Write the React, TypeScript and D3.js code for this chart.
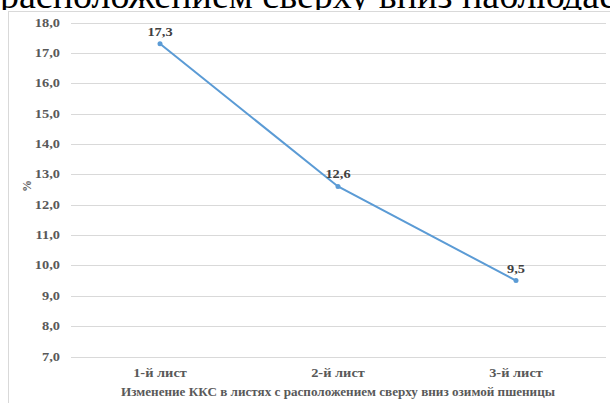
import React from "react";
import * as d3 from "d3";

const categories = ["1-й лист", "2-й лист", "3-й лист"];
const values = [17.3, 12.6, 9.5];
const yTicks = [7, 8, 9, 10, 11, 12, 13, 14, 15, 16, 17, 18];
const xTitle = "Изменение ККС в листях с расположением сверху вниз озимой пшеницы";
const yTitle = "%";
const headerText = "расположением сверху вниз наблюдается";

const W = 610;
const H = 403;
const fmt = (v: number) => v.toFixed(1).replace(".", ",");
const font = "'Liberation Serif', 'Times New Roman', serif";
const grey = "#595959";

// Bold serif label, slightly widened horizontally
function Label({
  x,
  y,
  anchor = "middle",
  fill = grey,
  children,
}: {
  x: number;
  y: number;
  anchor?: "start" | "middle" | "end";
  fill?: string;
  children: React.ReactNode;
}) {
  return (
    <text
      transform={`translate(${x},${y}) scale(1.2,1)`}
      textAnchor={anchor}
      fontFamily={font}
      fontWeight="bold"
      fontSize={12}
      fill={fill}
    >
      {children}
    </text>
  );
}

export default function App() {
  const x = d3.scaleBand<string>().domain(categories).range([71, 605]);
  const y = d3.scaleLinear().domain([7, 18]).range([356.5, 22.5]);
  const cx = (i: number) => (x(categories[i]) as number) + x.bandwidth() / 2;
  const line = d3
    .line<number>()
    .x((_, i) => cx(i))
    .y((d) => y(d));

  return (
    <svg
      width={W}
      height={H}
      style={{ position: "absolute", left: 0, top: 0, background: "#fff" }}
    >
      <defs>
        <clipPath id="headerClip">
          <rect x={0} y={0} width={W} height={10} />
        </clipPath>
      </defs>
      <g clipPath="url(#headerClip)">
        <text x={0} y={8} fontFamily={font} fontSize={38} fill="#000">
          {headerText}
        </text>
      </g>
      {/* chart frame */}
      <line x1={8.5} x2={8.5} y1={11} y2={H} stroke="#d9d9d9" />
      <line x1={8} x2={W} y1={11.5} y2={11.5} stroke="#d9d9d9" />
      {/* gridlines and y tick labels */}
      {yTicks.map((t) => (
        <g key={t}>
          <line
            x1={71}
            x2={606}
            y1={Math.round(y(t)) + 0.5}
            y2={Math.round(y(t)) + 0.5}
            stroke="#d9d9d9"
          />
          <Label x={60} y={y(t) + 4} anchor="end">
            {fmt(t)}
          </Label>
        </g>
      ))}
      {categories.map((c, i) => (
        <Label key={c} x={cx(i)} y={377}>
          {c}
        </Label>
      ))}
      <text
        x={121}
        y={396}
        textLength={434}
        lengthAdjust="spacingAndGlyphs"
        fontFamily={font}
        fontWeight="bold"
        fontSize={12}
        fill={grey}
      >
        {xTitle}
      </text>
      <text
        transform="translate(31,186) rotate(-90)"
        textAnchor="middle"
        fontFamily={font}
        fontWeight="bold"
        fontSize={12}
        fill={grey}
      >
        {yTitle}
      </text>
      <path d={line(values) ?? ""} fill="none" stroke="#5B9BD5" strokeWidth={2} />
      {values.map((v, i) => (
        <g key={i}>
          <circle cx={cx(i)} cy={y(v)} r={2.5} fill="#5B9BD5" />
          <Label x={cx(i)} y={y(v) - 8} fill="#404040">
            {fmt(v)}
          </Label>
        </g>
      ))}
    </svg>
  );
}
